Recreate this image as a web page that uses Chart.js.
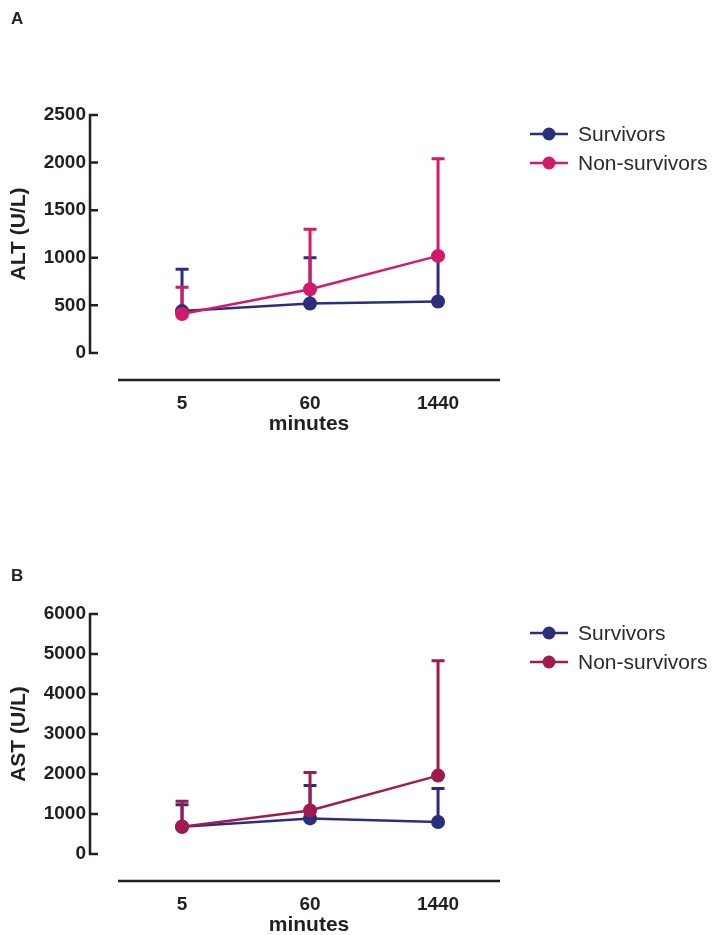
<!DOCTYPE html>
<html>
<head>
<meta charset="utf-8">
<script src="https://cdn.jsdelivr.net/npm/chart.js@4.4.0/dist/chart.umd.min.js"></script>
<style>
  body { margin: 0; background: #fff; }
  .panel { position: absolute; left: 0; width: 713px; height: 467px; }
</style>
</head>
<body>
<div class="panel" style="top:0"><canvas id="chartA" width="713" height="467"></canvas></div>
<div class="panel" style="top:468px"><canvas id="chartB" width="713" height="467"></canvas></div>
<script>
// categories (minutes)
const xLabels = ['5', '60', '1440'];
const seriesNames = ['Survivors', 'Non-survivors'];

// ALT (U/L): means and upper error bar ends
const altSurvivors = [440, 520, 540];
const altSurvivorsErr = [880, 1000, 1030];
const altNonSurvivors = [410, 670, 1020];
const altNonSurvivorsErr = [690, 1300, 2040];
const altTicks = [0, 500, 1000, 1500, 2000, 2500];

// AST (U/L)
const astSurvivors = [680, 890, 800];
const astSurvivorsErr = [1230, 1710, 1640];
const astNonSurvivors = [680, 1090, 1960];
const astNonSurvivorsErr = [1320, 2040, 4830];
const astTicks = [0, 1000, 2000, 3000, 4000, 5000, 6000];

const ink = '#231f20';
const navy = '#2b2e7d';
const FONT = "'Liberation Sans', Arial, sans-serif";

const prismPlugin = {
    id: 'prism',
    beforeDatasetsDraw(chart, args, opts) {
        const ctx = chart.ctx;
        const yScale = chart.scales.y;
        ctx.save();
        ctx.lineWidth = 3;
        // survivors first so non-survivors sit on top
        [1, 0].forEach(i => {
            const meta = chart.getDatasetMeta(i);
            const ds = chart.data.datasets[i];
            ctx.strokeStyle = ds.borderColor;
            opts.errors[i].forEach((e, j) => {
                const pt = meta.data[j];
                const yTop = yScale.getPixelForValue(e);
                ctx.beginPath();
                ctx.moveTo(pt.x, pt.y);
                ctx.lineTo(pt.x, yTop);
                ctx.moveTo(pt.x - 6.5, yTop);
                ctx.lineTo(pt.x + 6.5, yTop);
                ctx.stroke();
            });
        });
        ctx.restore();
    },
    afterDraw(chart, args, opts) {
        const ctx = chart.ctx;
        const area = chart.chartArea;
        const yScale = chart.scales.y;
        const xScale = chart.scales.x;
        const yTopPx = yScale.getPixelForValue(opts.yMax);
        const yZeroPx = yScale.getPixelForValue(0);
        ctx.save();
        ctx.strokeStyle = ink;
        ctx.fillStyle = ink;
        ctx.lineWidth = 2.5;

        // y axis with inward ticks
        ctx.beginPath();
        ctx.moveTo(area.left, yTopPx - 1.25);
        ctx.lineTo(area.left, yZeroPx + 1.25);
        opts.yTicks.forEach(v => {
            const py = yScale.getPixelForValue(v);
            ctx.moveTo(area.left, py);
            ctx.lineTo(area.left + 8, py);
        });
        ctx.stroke();

        // detached x axis
        const xStart = xScale.getPixelForValue(-0.5);
        ctx.beginPath();
        ctx.moveTo(xStart, area.bottom);
        ctx.lineTo(area.right, area.bottom);
        ctx.stroke();

        // axis titles
        ctx.font = 'bold 21px ' + FONT;
        ctx.textAlign = 'center';
        ctx.textBaseline = 'middle';
        ctx.fillText(opts.xTitle, (xStart + area.right) / 2, area.bottom + 44);
        ctx.save();
        ctx.translate(19, (yTopPx + yZeroPx) / 2);
        ctx.rotate(-Math.PI / 2);
        ctx.fillText(opts.yTitle, 0, 0);
        ctx.restore();

        // panel letter
        ctx.font = 'bold 17px ' + FONT;
        ctx.textAlign = 'left';
        ctx.fillText(opts.letter, 11, opts.letterY);

        // legend
        ctx.font = '21px ' + FONT;
        chart.data.datasets.slice().reverse().forEach((ds, i) => {
            const ly = area.top + 19 + i * 29;
            ctx.strokeStyle = ds.borderColor;
            ctx.lineWidth = 2.5;
            ctx.beginPath();
            ctx.moveTo(530, ly);
            ctx.lineTo(568, ly);
            ctx.stroke();
            ctx.fillStyle = ds.borderColor;
            ctx.beginPath();
            ctx.arc(549, ly, 6.5, 0, Math.PI * 2);
            ctx.fill();
            ctx.fillStyle = '#2a2a2a';
            ctx.fillText(ds.label, 578, ly + 1);
        });
        ctx.restore();
    }
};

function makeChart(id, cfg) {
    const ctx = document.getElementById(id).getContext('2d');
    const toPoints = arr => arr.map((v, i) => ({ x: i, y: v }));
    const dataset = (label, values, color) => ({
        label: label,
        data: toPoints(values),
        borderColor: color,
        backgroundColor: color,
        borderWidth: 2.5,
        pointRadius: 7,
        pointBorderWidth: 0,
        pointBackgroundColor: color,
        tension: 0
    });
    return new Chart(ctx, {
        type: 'line',
        data: {
            // non-survivors listed first so it is drawn on top
            datasets: [
                dataset(seriesNames[1], cfg.nonSurvivors, cfg.nonColor),
                dataset(seriesNames[0], cfg.survivors, navy)
            ]
        },
        options: {
            responsive: false,
            animation: false,
            layout: { padding: { top: cfg.areaTop, right: 213, left: 0, bottom: 0 } },
            plugins: {
                legend: { display: false },
                tooltip: { enabled: false },
                prism: {
                    errors: [cfg.nonSurvivorsErr, cfg.survivorsErr],
                    yTicks: cfg.yTicks,
                    yMax: cfg.yTicks[cfg.yTicks.length - 1],
                    yTitle: cfg.yTitle,
                    xTitle: 'minutes',
                    letter: cfg.letter,
                    letterY: cfg.letterY
                }
            },
            scales: {
                x: {
                    type: 'linear',
                    min: -0.719,
                    max: 2.484,
                    afterBuildTicks: s => { s.ticks = xLabels.map((l, i) => ({ value: i })); },
                    afterFit: s => { s.height = cfg.xHeight; },
                    grid: { display: false, drawTicks: false },
                    border: { display: false },
                    ticks: {
                        padding: 12,
                        color: ink,
                        font: { family: FONT, size: 19, weight: 'bold' },
                        callback: v => xLabels[v]
                    }
                },
                y: {
                    min: cfg.yMin,
                    max: cfg.yTicks[cfg.yTicks.length - 1],
                    afterBuildTicks: s => { s.ticks = cfg.yTicks.map(v => ({ value: v })); },
                    afterFit: s => { s.width = 90; },
                    grid: { display: false, drawTicks: false },
                    border: { display: false },
                    ticks: {
                        padding: 4,
                        color: ink,
                        font: { family: FONT, size: 19, weight: 'bold' },
                        callback: v => String(v)
                    }
                }
            }
        },
        plugins: [prismPlugin]
    });
}

makeChart('chartA', {
    letter: 'A', letterY: 19,
    yTitle: 'ALT (U/L)',
    yTicks: altTicks, yMin: -284,
    areaTop: 115, xHeight: 87,
    survivors: altSurvivors, survivorsErr: altSurvivorsErr,
    nonSurvivors: altNonSurvivors, nonSurvivorsErr: altNonSurvivorsErr,
    nonColor: '#d31a6a'
});

makeChart('chartB', {
    letter: 'B', letterY: 108,
    yTitle: 'AST (U/L)',
    yTicks: astTicks, yMin: -675,
    areaTop: 146, xHeight: 54,
    survivors: astSurvivors, survivorsErr: astSurvivorsErr,
    nonSurvivors: astNonSurvivors, nonSurvivorsErr: astNonSurvivorsErr,
    nonColor: '#a01a50'
});
</script>
</body>
</html>
